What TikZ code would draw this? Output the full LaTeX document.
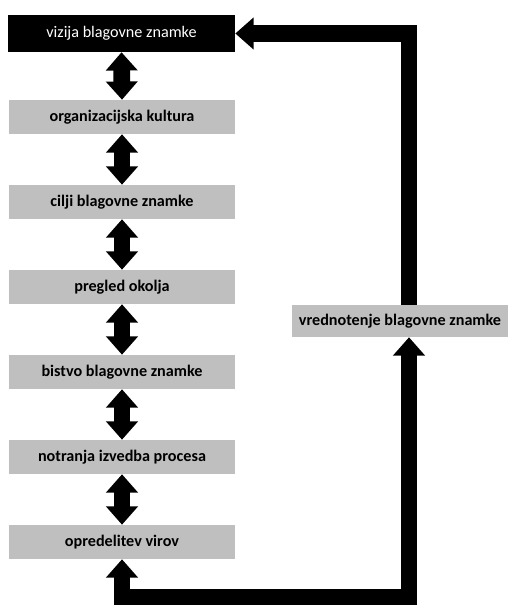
\documentclass[tikz,border=0pt]{standalone}
\usepackage{fontspec}
\setmainfont{Carlito}
\usepackage{tikz}
\usetikzlibrary{arrows.meta,positioning,calc}

\begin{document}
\begin{tikzpicture}[x=0.025cm, y=0.025cm, >={Triangle[width=22pt,length=13pt]},
  vision/.style={fill=black, text=white, minimum width=5.675cm, minimum height=0.925cm, inner sep=0pt, font=\fontsize{11.5pt}{13pt}\selectfont},
  stage/.style={fill=black!25, text=black, minimum width=5.65cm, minimum height=0.85cm, inner sep=0pt, font=\fontsize{11.5pt}{13pt}\selectfont\bfseries},
  link/.style={<->, line width=12pt, black},
  back/.style={line width=12pt, black}]

\useasboundingbox (0,0) rectangle (509,605);

\node[vision] (vis) at (121.5,571.5) {vizija blagovne znamke};

\node[stage] (org) at (122,488) {organizacijska kultura};
\node[stage] (cilji) at (122,403) {cilji blagovne znamke};
\node[stage] (okolje) at (122,318) {pregled okolja};
\node[stage] (bistvo) at (122,233) {bistvo blagovne znamke};
\node[stage] (izved) at (122,148) {notranja izvedba procesa};
\node[stage] (viri) at (122,63) {opredelitev virov};

\node[stage, minimum width=5.4cm, minimum height=0.8cm] (vred) at (400,284) {vrednotenje blagovne znamke};

\foreach \a/\b in {vis/org,org/cilji,cilji/okolje,okolje/bistvo,bistvo/izved,izved/viri}{\draw[link] (\a.south) -- (\b.north);}

\draw[back,<->] (viri.south) -- ++(0,-38) -| ($(vred.south)+(9,0)$);
\draw[back,->] ($(vred.north)+(9,0)$) |- (vis.east);
\end{tikzpicture}
\end{document}
